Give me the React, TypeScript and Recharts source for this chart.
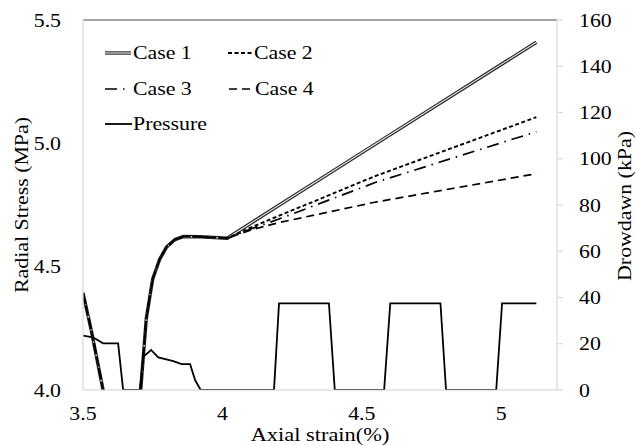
import React from 'react';
import { LineChart, Line, XAxis, YAxis, ReferenceLine } from 'recharts';

// Radial stress (MPa) vs axial strain (%), shared part before the cases split
const stressStrain = [3.5, 3.53, 3.572, 3.6, 3.64, 3.68, 3.707, 3.727, 3.75, 3.775, 3.8, 3.83, 3.86, 3.92, 3.97, 4.017];
const stressBase = [4.394, 4.24, 4.0, 3.85, 3.7, 3.78, 4.0, 4.29, 4.45, 4.53, 4.58, 4.61, 4.622, 4.621, 4.618, 4.615];

// after ~4% strain each case goes its own way
const tailStrain = [4.1, 4.2, 4.55, 5.126];
const case1Tail = [4.675, 4.747, 4.998, 5.41];
const case2Tail = [4.658, 4.705, 4.868, 5.106];
const case3Tail = [4.652, 4.692, 4.842, 5.047];
const case4Tail = [4.648, 4.678, 4.762, 4.877];

// drawdown pressure (kPa), right axis
const pressureStrain = [3.5, 3.536, 3.572, 3.626, 3.644, 3.704, 3.716, 3.744, 3.77, 3.806, 3.824, 3.854, 3.884, 3.902, 3.922, 4.185, 4.203, 4.382, 4.403, 4.58, 4.602, 4.782, 4.802, 4.982, 5.003, 5.126];
const pressureKPa = [23.5, 22.8, 20.2, 20.2, 0, 0, 14.3, 17.3, 14.1, 13.0, 12.5, 11.2, 11.2, 4.3, 0, 0, 37.5, 37.5, 0, 0, 37.5, 37.5, 0, 0, 37.5, 37.5];

const strainTicks = [3.5, 4, 4.5, 5];
const stressTicks = [4.0, 4.5, 5.0, 5.5];
const kpaTicks = [0, 20, 40, 60, 80, 100, 120, 140, 160];

const toPoints = (xs: number[], ys: number[]) => xs.map((x, i) => ({ x, y: ys[i] }));
const caseData = (tail: number[]) => toPoints([...stressStrain, ...tailStrain], [...stressBase, ...tail]);

const case1Data = caseData(case1Tail);
const case2Data = caseData(case2Tail);
const case3Data = caseData(case3Tail);
const case4Data = caseData(case4Tail);
const pressureData = toPoints(pressureStrain, pressureKPa);

const FONT = "'Liberation Serif', 'Times New Roman', serif";
const SX = 1.18; // the source picture is a little stretched sideways

const SText = ({ x, y, anchor = 'start', size = 18.5, children }: any) => (
  <text
    transform={`translate(${x},${y}) scale(${SX},1)`}
    textAnchor={anchor}
    fontFamily={FONT}
    fontSize={size}
    fill="#000"
  >
    {children}
  </text>
);

const XTick = ({ x, y, payload }: any) => (
  <SText x={x} y={y + 28} anchor="middle">{String(payload.value)}</SText>
);
const LeftTick = ({ x, y, payload }: any) => (
  <SText x={x - 20} y={y + 6.5} anchor="end">{Number(payload.value).toFixed(1)}</SText>
);
const RightTick = ({ x, y, payload }: any) => (
  <SText x={x + 20} y={y + 6.5} anchor="start">{String(payload.value)}</SText>
);

const VTitle = ({ cx, cy, children }: any) => (
  <text
    transform={`translate(${cx},${cy}) rotate(-90) scale(1.15,1)`}
    textAnchor="middle"
    dominantBaseline="central"
    fontFamily={FONT}
    fontSize={19}
    fill="#000"
  >
    {children}
  </text>
);

// legend drawn by hand, top left inside the plot
const LegendBox = () => (
  <g>
    <line x1={105} x2={131} y1={53} y2={53} stroke="#262626" strokeWidth={3.4} />
    <line x1={105} x2={131} y1={53} y2={53} stroke="#e6e6e6" strokeWidth={1.2} />
    <SText x={133} y={59}>Case 1</SText>

    <line x1={228} x2={253} y1={53} y2={53} stroke="#000" strokeWidth={1.8} strokeDasharray="4 2.5" />
    <SText x={254} y={59}>Case 2</SText>

    <line x1={105} x2={127} y1={89} y2={89} stroke="#000" strokeWidth={1.6} strokeDasharray="12 6 1.5 6" />
    <SText x={133} y={95}>Case 3</SText>

    <line x1={229} x2={253} y1={89} y2={89} stroke="#000" strokeWidth={1.6} strokeDasharray="8 5" />
    <SText x={255} y={95}>Case 4</SText>

    <line x1={105} x2={132} y1={124} y2={124} stroke="#000" strokeWidth={1.8} />
    <SText x={133} y={130}>Pressure</SText>
  </g>
);

export default function App() {
  return (
    <div style={{ position: 'absolute', left: 0, top: 0, background: '#fff' }}>
      <LineChart width={636} height={446} margin={{ top: 20, right: 0, bottom: 0, left: 0 }}>
        <XAxis
          dataKey="x"
          type="number"
          domain={[3.5, 5.2]}
          ticks={strainTicks}
          allowDataOverflow
          height={56}
          tickSize={0}
          tickLine={false}
          tick={<XTick />}
          axisLine={{ stroke: '#d0d0d0', strokeWidth: 1.2 }}
        />
        <YAxis
          yAxisId="left"
          type="number"
          domain={[4, 5.5]}
          ticks={stressTicks}
          allowDataOverflow
          width={83}
          tickSize={0}
          tickLine={false}
          tick={<LeftTick />}
          axisLine={{ stroke: '#d9d9d9', strokeWidth: 1.2 }}
        />
        <YAxis
          yAxisId="right"
          orientation="right"
          type="number"
          domain={[0, 160]}
          ticks={kpaTicks}
          allowDataOverflow
          width={79}
          tickSize={0}
          tickLine={false}
          tick={<RightTick />}
          axisLine={{ stroke: '#d9d9d9', strokeWidth: 1.2 }}
        />
        {kpaTicks.map((t) => (
          <ReferenceLine
            key={t}
            yAxisId="right"
            segment={[{ x: 5.2, y: t }, { x: 5.222, y: t }]}
            stroke="#d9d9d9"
            strokeWidth={1.2}
            ifOverflow="visible"
          />
        ))}
        <ReferenceLine yAxisId="left" y={5.5} stroke="#8a8a8a" strokeWidth={1.6} />

        <Line yAxisId="left" data={case1Data} dataKey="y" type="linear" stroke="#262626" strokeWidth={3.4} dot={false} isAnimationActive={false} />
        <Line yAxisId="left" data={case1Data} dataKey="y" type="linear" stroke="#e6e6e6" strokeWidth={1.2} dot={false} isAnimationActive={false} />
        <Line yAxisId="left" data={case2Data} dataKey="y" type="linear" stroke="#000" strokeWidth={1.9} strokeDasharray="4 2.5" dot={false} isAnimationActive={false} />
        <Line yAxisId="left" data={case3Data} dataKey="y" type="linear" stroke="#000" strokeWidth={1.7} strokeDasharray="12 6 1.5 6" dot={false} isAnimationActive={false} />
        <Line yAxisId="left" data={case4Data} dataKey="y" type="linear" stroke="#000" strokeWidth={1.7} strokeDasharray="8 5" dot={false} isAnimationActive={false} />
        <Line yAxisId="right" data={pressureData} dataKey="y" type="linear" stroke="#000" strokeWidth={1.8} dot={false} isAnimationActive={false} />

        <LegendBox />
        <SText x={320} y={441} anchor="middle" size={19}>Axial strain(%)</SText>
        <VTitle cx={22} cy={205}>Radial Stress (MPa)</VTitle>
        <VTitle cx={625} cy={206}>Drowdawn (kPa)</VTitle>
      </LineChart>
    </div>
  );
}
